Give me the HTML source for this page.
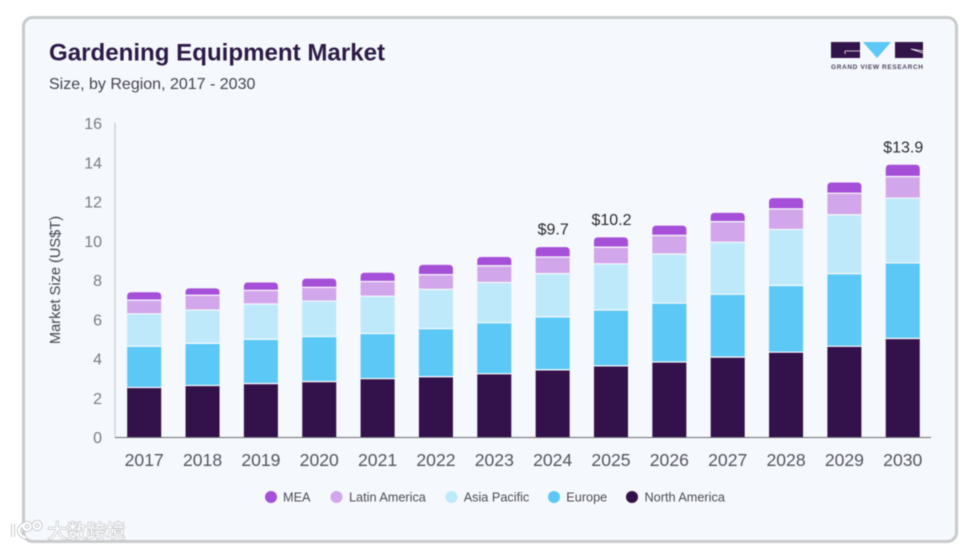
<!DOCTYPE html>
<html lang="en">
<head>
<meta charset="utf-8">
<title>Gardening Equipment Market</title>
<style>
html,body{margin:0;padding:0;background:#fff;width:962px;height:548px;overflow:hidden}
svg{display:block;font-family:"Liberation Sans",sans-serif;filter:blur(.4px)}
</style>
</head>
<body>
<svg id="chart" width="962" height="548" viewBox="0 0 962 548" xmlns="http://www.w3.org/2000/svg">
  <rect x="23.5" y="17.5" width="933" height="524" rx="9" fill="#f5f8fc" stroke="#c8cacc" stroke-width="3"/>
  <text x="49" y="60.5" font-size="24.1" font-weight="700" fill="#2d1a47">Gardening Equipment Market</text>
  <text x="49" y="89" font-size="16" fill="#444450">Size, by Region, 2017 - 2030</text>
  <g>
    <rect x="831" y="42" width="29" height="16" fill="#33144a"/>
    <path d="M845 51H860M845 51V54" stroke="#f5f8fc" stroke-width=".8" fill="none"/>
    <polygon points="863,42 891,42 877,58" fill="#5bc8f5"/>
    <rect x="895" y="42" width="28" height="16" fill="#33144a"/>
    <path d="M911 49L923 53M911 49L923 51" stroke="#f5f8fc" stroke-width=".8" fill="none"/>
    <text x="877" y="69" font-size="6.5" font-weight="700" fill="#4e4660" text-anchor="middle" textLength="92" lengthAdjust="spacing">GRAND VIEW RESEARCH</text>
  </g>
  <text transform="translate(60 280) rotate(-90)" font-size="14.6" fill="#444450" text-anchor="middle">Market Size (US$T)</text>
  <g id="y-ticks"></g>
  <g id="bars"></g>
  <line x1="115" y1="123" x2="115" y2="437.5" stroke="#c9cdd1" stroke-width="1.2"/>
  <line x1="115" y1="437.5" x2="931" y2="437.5" stroke="#6d6d75" stroke-width="1"/>
  <g id="x-ticks"></g>
  <g id="totals"></g>
  <g id="legend"></g>
  <g>
    <path d="M13 524V537M27 523C17 526 16 534 26 538M27 523a3.5 3.5 0 1 0 .1 0M37 522a3.5 3.5 0 1 0 .1 0" fill="none" stroke="#bcbec0" stroke-width="4"/>
    <path d="M13 524V537M27 523C17 526 16 534 26 538M27 523a3.5 3.5 0 1 0 .1 0M37 522a3.5 3.5 0 1 0 .1 0" fill="none" stroke="#fff" stroke-width="2.4"/>
    <text x="47.500" y="538" font-size="19.500" fill="#fff" stroke="#bcbec0" stroke-width="1.2" style="paint-order:stroke" font-family="'Liberation Sans','Noto Sans CJK SC',sans-serif">大数跨境</text>
  </g>
</svg>
<script>
const categories = ["2017","2018","2019","2020","2021","2022","2023","2024","2025","2026","2027","2028","2029","2030"];
const northAmerica = [2.55,2.65,2.75,2.85,3.0,3.1,3.25,3.45,3.65,3.85,4.1,4.35,4.65,5.05];
const europe = [2.1,2.15,2.25,2.3,2.3,2.45,2.6,2.7,2.85,3.0,3.2,3.4,3.7,3.85];
const asiaPacific = [1.65,1.7,1.8,1.8,1.9,2.0,2.05,2.2,2.35,2.5,2.65,2.85,3.0,3.3];
const latinAmerica = [0.7,0.75,0.7,0.7,0.75,0.75,0.85,0.85,0.85,0.95,1.05,1.05,1.1,1.1];
const mea = [0.4,0.35,0.4,0.45,0.45,0.5,0.45,0.5,0.5,0.5,0.45,0.55,0.55,0.6];
const yTickLabels = [0,2,4,6,8,10,12,14,16];
const totalLabels = {"2024":"$9.7","2025":"$10.2","2030":"$13.9"};
const legendOrder = ["MEA","Latin America","Asia Pacific","Europe","North America"];

const NS = "http://www.w3.org/2000/svg";
const stack = [
  {name:"north-america", values:northAmerica, color:"#33114a"},
  {name:"europe", values:europe, color:"#5bc8f5"},
  {name:"asia-pacific", values:asiaPacific, color:"#bde9fb"},
  {name:"latin-america", values:latinAmerica, color:"#d2a6ea"},
  {name:"mea", values:mea, color:"#a64fd8"}
];
const legendColors = {"MEA":"#a64fd8","Latin America":"#d2a6ea","Asia Pacific":"#bde9fb","Europe":"#5bc8f5","North America":"#33114a"};
const legendDotX = {"MEA":271,"Latin America":336.5,"Asia Pacific":451.5,"Europe":554,"North America":632};
const legendTextX = {"MEA":283,"Latin America":349,"Asia Pacific":463.7,"Europe":566.3,"North America":644.5};

function yScale(v){ return 437.5 - v * 19.62; }
function xScale(i){ return 144.2 + i * 58.35; }
function mk(tag, attrs, parent, text){
  const el = document.createElementNS(NS, tag);
  for (const k in attrs) el.setAttribute(k, attrs[k]);
  if (text !== undefined) el.textContent = text;
  parent.appendChild(el);
  return el;
}

const barsG = document.getElementById("bars");
const barW = 34;
categories.forEach((cat, i) => {
  let base = 0;
  const cx = xScale(i);
  stack.forEach((s, si) => {
    const top = base + s.values[i];
    const y0 = yScale(base), y1 = yScale(top);
    const left = cx - barW / 2;
    let seg;
    if (si === stack.length - 1) {
      const r = 4;
      seg = mk("path", {d:`M${left} ${y0}V${y1 + r}Q${left} ${y1} ${left + r} ${y1}H${left + barW - r}Q${left + barW} ${y1} ${left + barW} ${y1 + r}V${y0}Z`, fill:s.color}, barsG);
    } else {
      seg = mk("rect", {x:left, y:y1, width:barW, height:y0 - y1, fill:s.color}, barsG);
    }
    
    
    if (si > 0) {
      const sep = mk("line", {x1:left, x2:left + barW, y1:y0, y2:y0, stroke:"#f5f8fc", "stroke-width":1.3}, barsG);
      
      
    }
    base = top;
  });
  if (totalLabels[cat]) {
    const t = mk("text", {x:cx + 0.5, y:yScale(base) - 12.5, "font-size":16, fill:"#2c2c30", "text-anchor":"middle"}, document.getElementById("totals"), totalLabels[cat]);
    
    
  }
  const xl = mk("text", {x:cx, y:466, "font-size":17.6, fill:"#555560", "text-anchor":"middle"}, document.getElementById("x-ticks"), cat);
  
  
});

yTickLabels.forEach(v => {
  const t = mk("text", {x:102, y:yScale(v) + 5.5, "font-size":16, fill:"#7b7b82", "text-anchor":"end"}, document.getElementById("y-ticks"), v);
  
  
});

legendOrder.forEach(name => {
  const g = mk("g", {}, document.getElementById("legend"));
  
  
  const dot = mk("circle", {cx:legendDotX[name], cy:497, r:6, fill:legendColors[name]}, g);
  
  
  const lb = mk("text", {x:legendTextX[name], y:501.5, "font-size":12.7, fill:"#4c4c56"}, g, name);
  
  
});
</script>
</body>
</html>
